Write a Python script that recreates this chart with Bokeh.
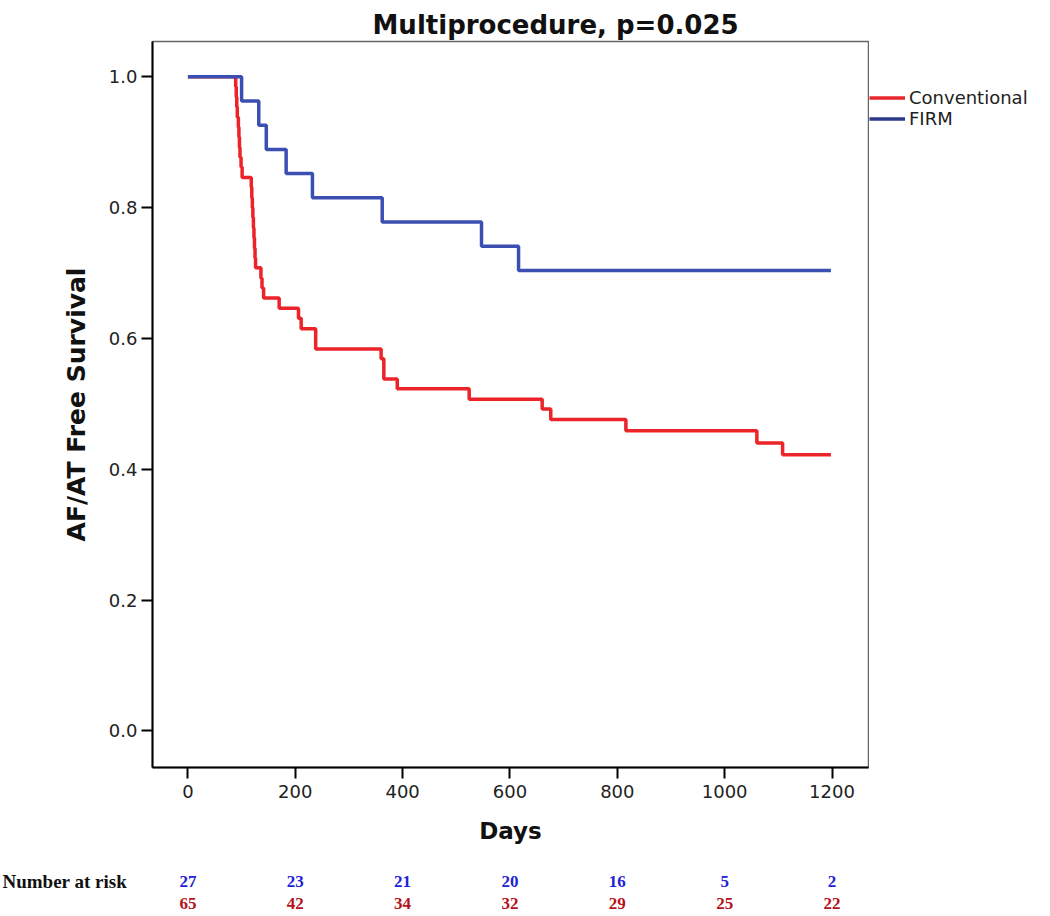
from bokeh.plotting import figure
from bokeh.layouts import column, row
from bokeh.models import Legend, LegendItem, FixedTicker, Range1d, PrintfTickFormatter
from bokeh.core.properties import value
from bokeh.embed import file_html
from bokeh.resources import INLINE

# ---- data ----
firm_days = [0, 100, 132, 146, 183, 232, 362, 547, 616, 1198]
firm_surv = [1.0, 0.963, 0.926, 0.889, 0.852, 0.815, 0.778, 0.741, 0.704, 0.704]

conv_days = [0, 89, 90, 91, 92, 94, 95, 96, 97, 99, 101,
             118, 119, 120, 121, 122, 123, 124, 125, 126,
             136, 138, 141, 170, 206, 211, 238,
             360, 365, 390, 524, 660, 676, 816, 1060, 1108, 1198]
conv_surv = [1.0, 0.985, 0.969, 0.954, 0.938, 0.923, 0.908, 0.892, 0.877, 0.862, 0.846,
             0.831, 0.815, 0.800, 0.785, 0.769, 0.754, 0.738, 0.723, 0.708,
             0.692, 0.677, 0.662, 0.646, 0.631, 0.615, 0.584,
             0.569, 0.538, 0.523, 0.507, 0.492, 0.476, 0.459, 0.440, 0.422, 0.422]

risk_days = [0, 200, 400, 600, 800, 1000, 1200]
risk_firm = [27, 23, 21, 20, 16, 5, 2]
risk_conv = [65, 42, 34, 32, 29, 25, 22]

x_ticks = [0, 200, 400, 600, 800, 1000, 1200]
y_ticks = [0.0, 0.2, 0.4, 0.6, 0.8, 1.0]

title_text = "Multiprocedure, p=0.025"
x_label = "Days"
y_label = "AF/AT Free Survival"
series_names = ["Conventional", "FIRM"]
risk_title = "Number at risk"

# ---- styles / layout ----
RED = "#ec2329"
BLUE = "#3b4fb3"
LEG_RED = "#e8262d"
LEG_BLUE = "#2c3a8c"
NUM_BLUE = "#2323d6"
NUM_RED = "#b5121b"
FONT = "DejaVu Sans"
NUM_FONT = "Liberation Serif"

TOTAL_W = 1050
MAIN_W, MAIN_H = 869, 850
FRAME_L = 152
BORDER_TOP, BORDER_BOTTOM = 41, 83
X0, X1 = -66, 1268
Y0, Y1 = -0.056, 1.054
TABLE_H = 916 - MAIN_H

p = figure(width=MAIN_W, height=MAIN_H,
           x_range=Range1d(X0, X1), y_range=Range1d(Y0, Y1),
           output_backend="svg", toolbar_location=None,
           min_border_left=FRAME_L, min_border_right=1,
           min_border_top=BORDER_TOP, min_border_bottom=BORDER_BOTTOM)

p.background_fill_color = "white"
p.border_fill_color = "white"
p.outline_line_color = "#666666"
p.outline_line_width = 1.5
p.grid.visible = False

p.step(conv_days, conv_surv, mode="after", line_color=RED, line_width=3.5)
p.step(firm_days, firm_surv, mode="after", line_color=BLUE, line_width=3.5)

# title
p.title.text = title_text
p.title.text_font = FONT
p.title.text_font_size = "26px"
p.title.text_font_style = "bold"
p.title.text_color = "#111111"
p.title.align = "left"
p.title.offset = 220
p.title.standoff = 0
p.title.vertical_align = "top"

# axes
for ax in (p.xaxis[0], p.yaxis[0]):
    ax.axis_line_color = "black"
    ax.axis_line_width = 2
    ax.major_tick_out = 11
    ax.major_tick_in = 0
    ax.minor_tick_out = 0
    ax.minor_tick_in = 0
    ax.major_tick_line_width = 2
    ax.major_tick_line_color = "black"
    ax.major_label_text_font = FONT
    ax.major_label_text_font_size = "18px"
    ax.major_label_text_color = "#222222"
    ax.major_label_standoff = 4
    ax.axis_label_text_font = FONT
    ax.axis_label_text_font_style = "bold"
    ax.axis_label_text_color = "#111111"

p.xaxis[0].ticker = FixedTicker(ticks=x_ticks)
p.yaxis[0].ticker = FixedTicker(ticks=y_ticks)
p.yaxis[0].formatter = PrintfTickFormatter(format="%.1f")
p.xaxis[0].major_label_standoff = 6
p.xaxis[0].axis_label = x_label
p.xaxis[0].axis_label_text_font_size = "23px"
p.xaxis[0].axis_label_standoff = 17
p.yaxis[0].axis_label = y_label
p.yaxis[0].axis_label_text_font_size = "25px"
p.yaxis[0].axis_label_standoff = 15

# ---- legend panel to the right of the plot (frames are aligned in the row) ----
LEG_W = TOTAL_W - MAIN_W
pl = figure(width=LEG_W, height=MAIN_H, x_range=Range1d(0, 1), y_range=Range1d(0, 1),
            x_axis_type=None, y_axis_type=None, title=None,
            output_backend="svg", toolbar_location=None,
            min_border_left=0, min_border_right=0,
            min_border_top=BORDER_TOP, min_border_bottom=BORDER_BOTTOM)
pl.outline_line_color = None
pl.background_fill_color = "white"
pl.border_fill_color = "white"
nan = float("nan")
lr_conv = pl.step(x=[nan], y=[nan], mode="after", line_color=LEG_RED, line_width=3.5)
lr_firm = pl.step(x=[nan], y=[nan], mode="after", line_color=LEG_BLUE, line_width=3.5)
legend = Legend(items=[LegendItem(label=series_names[0], renderers=[lr_conv]),
                       LegendItem(label=series_names[1], renderers=[lr_firm])],
                location=(0, 638))
legend.border_line_color = None
legend.background_fill_alpha = 0
legend.padding = 4
legend.margin = 0
legend.spacing = 0
legend.glyph_width = 36
legend.glyph_height = 21
legend.label_height = 21
legend.label_standoff = 4
legend.label_text_font = FONT
legend.label_text_font_size = "18px"
legend.label_text_color = "#222222"
pl.add_layout(legend)

# ---- number-at-risk table below, sharing the x scale of the plot ----
ppd = (MAIN_W - FRAME_L - 1) / (X1 - X0)
tx0 = X0 - FRAME_L / ppd
tx1 = tx0 + TOTAL_W / ppd
pt = figure(width=TOTAL_W, height=TABLE_H, x_range=Range1d(tx0, tx1),
            y_range=Range1d(TABLE_H, 0), x_axis_type=None, y_axis_type=None, title=None,
            output_backend="svg", toolbar_location=None, min_border=0)
pt.outline_line_color = None
pt.background_fill_color = "white"
pt.border_fill_color = "white"
ROW1, ROW2 = 31, 53
pt.text(x=[tx0 + 2 / ppd], y=[ROW1], text=[risk_title], text_font=value(NUM_FONT),
        text_font_size="19px", text_font_style="bold", text_color="#111111",
        text_align="left", text_baseline="middle")
pt.text(x=risk_days, y=[ROW1] * len(risk_days), text=[str(v) for v in risk_firm],
        text_font=value(NUM_FONT), text_font_size="17px", text_font_style="bold",
        text_color=NUM_BLUE, text_align="center", text_baseline="middle")
pt.text(x=risk_days, y=[ROW2] * len(risk_days), text=[str(v) for v in risk_conv],
        text_font=value(NUM_FONT), text_font_size="17px", text_font_style="bold",
        text_color=NUM_RED, text_align="center", text_baseline="middle")

layout = column(row(p, pl), pt)
open("out.html", "w").write(file_html(layout, INLINE))
